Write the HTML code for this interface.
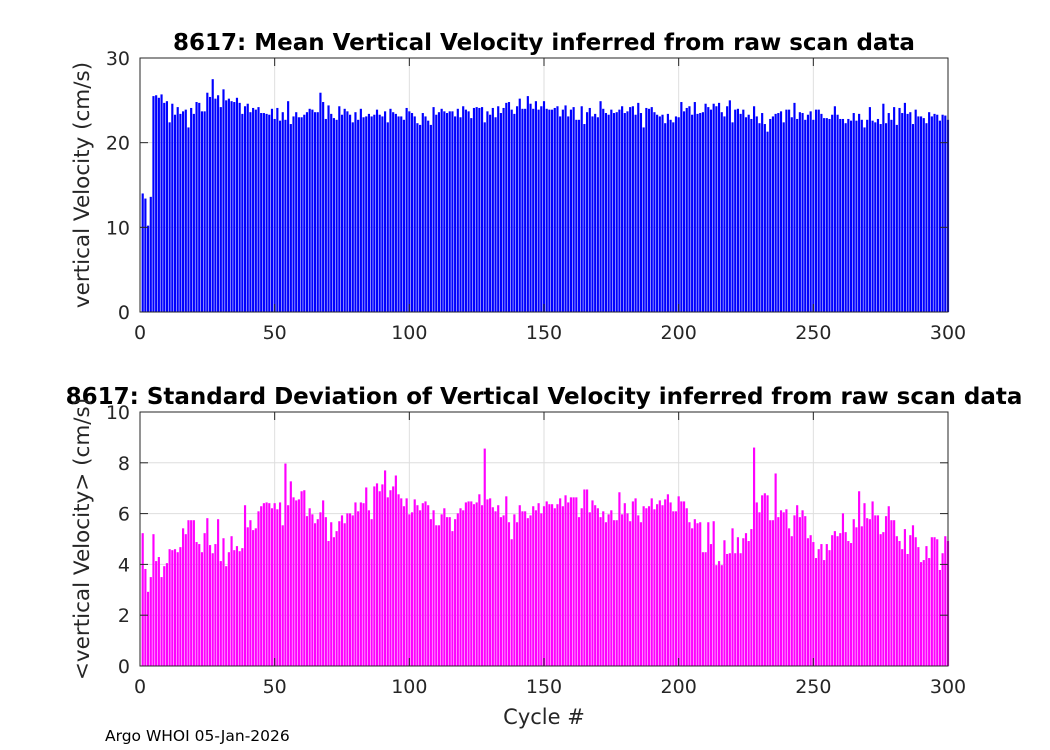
<!DOCTYPE html>
<html><head><meta charset="utf-8"><style>
html,body{margin:0;padding:0;background:#fff;}
svg{display:block;font-family:"DejaVu Sans","Liberation Sans",sans-serif;}
</style></head><body>
<svg id="chart" width="1050" height="750" viewBox="0 0 1050 750"></svg>
<script>
const xTicks=[0,50,100,150,200,250,300];
const topYTicks=[0,10,20,30];
const botYTicks=[0,2,4,6,8,10];
const meanVel=[14,13.4,10.2,13.6,
25.5,25.6,25.3,25.7,24.7,24.9,22.4,24.6,23.3,24.2,23.4,23.7,23.9,21.8,24.1,23.4,24.8,24.7,23.7,23.7,25.9,25.4,27.5,25.2,25.6,24.2,26.3,25.0,25.2,24.9,24.8,25.3,24.7,23.4,24.3,24.6,23.6,24.1,23.9,24.2,23.5,23.5,23.4,23.3,24.0,22.8,24.1,22.6,23.6,22.7,24.9,22.2,23.1,23.6,23.0,23.0,23.3,23.6,24.0,23.9,23.6,23.6,25.9,24.8,22.8,24.4,23.4,22.9,22.7,24.3,23.3,24.0,23.7,23.3,22.4,23.6,22.7,24.0,23.0,23.1,23.4,23.1,23.3,23.9,23.3,23.1,23.7,22.4,24.0,23.6,23.4,23.1,23.1,22.7,
24.1,23.7,23.5,23.1,22.3,22.1,23.5,23.1,22.6,22.1,24.2,23.3,23.6,24.0,23.7,23.5,23.7,23.7,23.1,24.0,23.0,24.3,23.9,23.7,22.9,24.1,24.2,24.1,24.2,22.4,23.7,23.3,24.1,23.0,24.3,23.5,24.1,24.7,24.8,23.9,23.4,24.3,25.2,24.0,24.0,25.5,24.6,24.0,24.9,23.9,24.3,24.9,24.0,23.9,23.9,24.1,24.3,23.1,23.9,24.4,23.1,23.9,24.2,22.7,22.7,24.3,22.2,23.6,24.1,23.1,23.4,23.0,24.9,24.0,23.5,23.3,23.9,23.5,23.6,23.9,24.3,23.5,23.7,24.2,24.3,23.3,24.7,23.5,21.8,24.1,24.0,24.2,23.6,23.3,23.1,23.3,22.3,23.4,22.7,22.4,
23.1,23.0,24.8,23.7,24.1,24.3,23.3,24.8,23.4,23.5,23.6,24.6,24.2,23.9,24.6,24.3,24.7,23.6,23.1,24.3,25.0,22.4,23.9,24.0,23.4,23.9,23.0,23.3,22.8,24.3,23.1,22.3,23.5,22.2,21.3,22.8,23.1,23.4,23.5,23.7,22.4,23.9,23.9,23.0,24.7,22.8,23.6,23.5,22.7,23.3,23.7,22.7,23.9,23.9,23.4,22.9,22.9,22.8,23.3,24.3,23.3,22.8,22.8,22.3,22.8,22.6,23.5,22.6,23.4,22.7,21.8,22.7,24.2,22.6,22.4,22.8,22.2,24.6,22.3,23.5,22.7,24.2,22.1,24.1,23.5,24.7,23.4,23.6,22.2,23.9,23.1,23.1,22.9,22.3,23.6,23.1,23.4,23.3,22.6,23.3,23.2,22.7];
const stdVel=[5.23,3.82,2.92,3.50,5.19,4.13,4.29,3.50,3.93,4.05,4.60,4.56,4.60,4.48,4.68,5.42,5.19,5.74,5.74,5.74,4.88,4.80,4.48,5.23,5.82,4.76,4.44,4.80,5.78,4.13,5.03,3.93,4.48,5.11,4.56,4.72,4.52,4.64,6.33,5.46,5.74,5.35,5.42,6.09,6.29,6.41,6.44,6.41,6.21,6.41,6.17,6.44,5.54,7.97,6.33,7.27,6.64,6.52,6.56,6.88,6.92,5.90,6.21,5.97,5.62,5.78,6.05,6.52,5.86,4.92,5.66,5.07,5.31,5.70,5.93,5.62,6.01,6.01,5.93,6.44,6.09,6.44,6.41,7.03,6.13,5.78,7.07,7.19,6.88,7.15,7.70,6.64,6.92,7.07,7.50,6.76,6.60,6.29,6.60,5.97,
6.05,6.56,6.33,6.13,6.41,6.48,6.33,5.78,6.13,5.54,5.54,5.97,6.21,5.86,5.86,5.31,5.78,6.01,6.21,6.13,6.44,6.48,6.48,6.37,6.44,6.76,6.33,8.56,6.56,6.60,6.25,6.09,6.33,5.86,5.93,6.68,5.66,4.99,5.97,5.66,6.33,6.09,6.09,5.82,5.93,6.29,6.13,6.41,6.01,6.29,6.48,6.37,6.37,6.21,6.37,6.60,6.29,6.72,6.44,6.64,6.64,6.64,5.86,6.21,6.95,6.95,6.05,6.52,6.33,6.21,5.86,6.09,5.66,5.97,6.13,5.74,5.74,6.84,5.97,6.41,6.01,5.70,6.48,6.60,5.93,5.66,6.29,6.21,6.29,6.60,6.17,6.37,6.52,6.33,6.56,6.76,6.44,6.09,6.09,6.68,
6.48,6.48,6.21,5.66,5.42,5.78,5.62,5.66,4.48,4.48,5.66,4.80,5.70,3.97,4.13,3.97,4.95,4.41,4.44,5.42,4.44,5.07,4.44,5.03,5.23,4.92,5.39,8.60,6.44,6.05,6.72,6.80,6.72,5.74,5.74,7.58,5.86,6.13,6.05,6.17,5.42,5.11,5.93,6.33,5.86,6.13,5.90,5.03,5.15,4.88,4.25,4.60,4.80,4.17,4.80,4.56,5.15,5.31,5.11,5.23,6.01,5.27,4.92,4.84,5.78,5.46,6.88,5.50,6.41,5.82,5.78,6.48,5.93,5.93,5.19,5.27,5.90,6.29,5.74,5.74,5.11,4.92,4.60,5.39,4.41,5.15,5.54,5.07,4.68,4.09,4.17,4.72,4.25,5.07,5.07,4.99,3.78,4.44,5.11,4.92,4.44];

const NS='http://www.w3.org/2000/svg';
const svg=document.getElementById('chart');
function mk(tag,attrs,parent){const e=document.createElementNS(NS,tag);for(const k in attrs)e.setAttribute(k,attrs[k]);(parent||svg).appendChild(e);return e;}
const L=140,R=948;
const xs=v=>L+(v/300)*(R-L);

function panel(top,bot,ymax,yTicks,data,color,title,ylabel,pname){
  const g=mk('g',{});
  
  
  const ys=v=>bot-(v/ymax)*(bot-top);
  mk('rect',{x:L,y:top,width:R-L,height:bot-top,fill:'#fff'},g);
  xTicks.forEach(t=>{const l=mk('line',{x1:xs(t),x2:xs(t),y1:top,y2:bot,stroke:'#dedede','stroke-width':1},g);
    
    });
  yTicks.forEach(t=>{const l=mk('line',{x1:L,x2:R,y1:ys(t),y2:ys(t),stroke:'#dedede','stroke-width':1},g);
    
    });
  const step=(R-L)/300, bw=step*0.8;
  data.forEach((v,i)=>{const c=i+1;if(c>300)return;const yy=ys(Math.min(v,ymax));
    const b=mk('rect',{x:xs(c)-bw/2,y:yy,width:bw,height:bot-yy,fill:color},g);
    
    });
  mk('rect',{x:L,y:top,width:R-L,height:bot-top,fill:'none',stroke:'#262626','stroke-width':1},g);
  xTicks.forEach(t=>{mk('line',{x1:xs(t),x2:xs(t),y1:bot,y2:bot-8,stroke:'#262626'},g);mk('line',{x1:xs(t),x2:xs(t),y1:top,y2:top+8,stroke:'#262626'},g);
    const tx=mk('text',{x:xs(t),y:bot+27,'text-anchor':'middle','font-size':19,fill:'#262626'},g);tx.textContent=t;
    
    });
  yTicks.forEach(t=>{mk('line',{x1:L,x2:L+8,y1:ys(t),y2:ys(t),stroke:'#262626'},g);mk('line',{x1:R,x2:R-8,y1:ys(t),y2:ys(t),stroke:'#262626'},g);
    const tx=mk('text',{x:L-10,y:ys(t)+7,'text-anchor':'end','font-size':19,fill:'#262626'},g);tx.textContent=t;
    
    });
  const tt=mk('text',{x:544,y:top-8,'text-anchor':'middle','font-size':23,'font-weight':'bold',fill:'#000'},g);tt.textContent=title;
  
  
  const yl=mk('text',{x:0,y:0,'text-anchor':'middle','font-size':21.5,fill:'#262626',transform:`translate(89,${(top+bot)/2}) rotate(-90)`},g);yl.textContent=ylabel;
  
  
}
panel(58,312,30,topYTicks,meanVel,'#0000ff','8617: Mean Vertical Velocity inferred from raw scan data','vertical Velocity (cm/s)','mean-velocity-panel');
panel(412,666,10,botYTicks,stdVel,'#ff00ff','8617: Standard Deviation of Vertical Velocity inferred from raw scan data','<vertical Velocity> (cm/s)','std-velocity-panel');
const xl=mk('text',{x:544,y:724,'text-anchor':'middle','font-size':21,fill:'#262626'});xl.textContent='Cycle #';


const ft=mk('text',{x:105,y:741,'font-size':15.5,fill:'#000'});ft.textContent='Argo WHOI 05-Jan-2026';


</script>
</body></html>
